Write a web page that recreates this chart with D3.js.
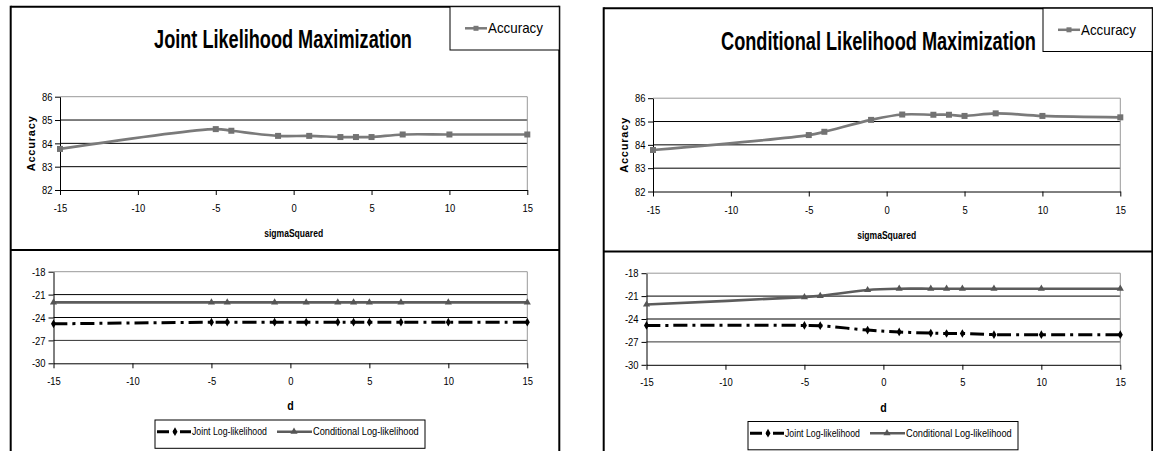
<!DOCTYPE html>
<html><head><meta charset="utf-8">
<script src="https://cdn.jsdelivr.net/npm/d3@7"></script>
<style>body{margin:0;background:#fff;} svg{display:block;}</style>
</head><body>
<svg id="c" width="1153" height="451"></svg>
<script>
// ---- data ----
const xValues = [-15, -5, -4, -1, 1, 3, 4, 5, 7, 10, 15];
const xTicks = [-15, -10, -5, 0, 5, 10, 15];
const accuracyTicks = [82, 83, 84, 85, 86];
const logLikTicks = [-30, -27, -24, -21, -18];
const panelTitles = ["Joint Likelihood Maximization", "Conditional Likelihood Maximization"];
const topXTitle = "sigmaSquared";
const topYTitle = "Accuracy";
const bottomXTitle = "d";
const seriesNames = ["Accuracy", "Joint Log-likelihood", "Conditional Log-likelihood"];

const accuracyJointModel = [83.76, 84.61, 84.54, 84.32, 84.32, 84.27, 84.27, 84.27, 84.38, 84.38, 84.38];
const accuracyCondModel  = [83.78, 84.42, 84.56, 85.07, 85.30, 85.29, 85.29, 85.24, 85.35, 85.24, 85.18];
const jointLLJointModel  = [-24.83, -24.62, -24.62, -24.62, -24.62, -24.62, -24.62, -24.62, -24.62, -24.62, -24.62];
const condLLJointModel   = [-22.02, -22.02, -22.02, -22.02, -22.02, -22.02, -22.02, -22.02, -22.02, -22.02, -22.02];
const jointLLCondModel   = [-24.84, -24.84, -24.88, -25.45, -25.70, -25.85, -25.90, -25.90, -26.05, -26.05, -26.05];
const condLLCondModel    = [-22.10, -21.13, -20.97, -20.20, -20.03, -20.03, -20.03, -20.03, -20.03, -20.03, -20.03];

// ---- drawing ----
const FONT = "'Liberation Sans',Arial,sans-serif";
const TICK_SX = 0.82;
const svg = d3.select("#c");

const panels = [
  {ox: 0, oy: 0, title: panelTitles[0], titleX: 283, titleW: 258, acc: accuracyJointModel, jll: jointLLJointModel, cll: condLLJointModel},
  {ox: 593, oy: 1.5, title: panelTitles[1], titleX: 285.5, titleW: 315, acc: accuracyCondModel, jll: jointLLCondModel, cll: condLLCondModel}
];

// text horizontally condensed to a target width (narrow-font look)
function condText(sel, x, y, str, size, weight, targetW, anchor) {
  const t = sel.append("text").attr("font-family", FONT).attr("font-size", size)
    .attr("font-weight", weight).attr("fill", "#000").text(str);
  const w = t.node().getComputedTextLength();
  const sx = targetW / w;
  t.attr("text-anchor", anchor || "start").attr("transform", `translate(${x},${y}) scale(${sx},1)`);
  return t;
}

function styleAxis(ax, left, offset) {
  ax.selectAll("path.domain").attr("stroke", "#000").attr("stroke-width", 1);
  ax.selectAll(".tick line").attr("stroke", "#000").attr("stroke-width", 1);
  const tx = ax.selectAll(".tick text").attr("font-family", FONT).attr("font-size", 11.5).attr("fill", "#000")
    .attr("transform", `scale(${TICK_SX},1)`);
  if (left) tx.attr("x", -offset / TICK_SX);
}

panels.forEach(p => {
  const g = svg.append("g").attr("transform", `translate(${p.ox},${p.oy})`);

  // panel borders
  const L = 10.7, R = 559.3, T = 6.7, SEP = 250;
  g.append("line").attr("x1", L).attr("x2", R).attr("y1", T).attr("y2", T).attr("stroke", "#000").attr("stroke-width", 2);
  g.append("line").attr("x1", L).attr("x2", L).attr("y1", T - 1).attr("y2", 460).attr("stroke", "#000").attr("stroke-width", 2);
  g.append("line").attr("x1", R).attr("x2", R).attr("y1", T - 1).attr("y2", 460).attr("stroke", "#000").attr("stroke-width", 2);
  g.append("line").attr("x1", L).attr("x2", R).attr("y1", SEP).attr("y2", SEP).attr("stroke", "#000").attr("stroke-width", 2);

  // title
  condText(g, p.titleX, 48, p.title, 26, "bold", p.titleW, "middle");

  // accuracy legend
  const lg = g.append("g");
  lg.append("rect").attr("x", 450).attr("y", T).attr("width", R - 450).attr("height", 50 - T)
    .attr("fill", "#fff").attr("stroke", "#000").attr("stroke-width", 1);
  lg.append("line").attr("x1", 465).attr("x2", 487).attr("y1", 28.3).attr("y2", 28.3).attr("stroke", "#7a7a7a").attr("stroke-width", 2.5);
  lg.append("rect").attr("x", 473.5).attr("y", 25.8).attr("width", 5).attr("height", 5).attr("fill", "#777");
  condText(lg, 488, 33, seriesNames[0], 14, "normal", 55, "start");

  // ---- top chart ----
  const xT = d3.scaleLinear().domain([-15, 15]).range([60, 527.3]);
  const yT = d3.scaleLinear().domain([82, 86]).range([190, 96.7]);
  accuracyTicks.forEach(t => {
    if (t === 82) return;
    g.append("line").attr("x1", xT(-15)).attr("x2", xT(15)).attr("y1", yT(t)).attr("y2", yT(t))
      .attr("stroke", t === 86 ? "#999" : "#000").attr("stroke-width", 1);
  });
  g.append("line").attr("x1", xT(15)).attr("x2", xT(15)).attr("y1", yT(86)).attr("y2", yT(82)).attr("stroke", "#999");
  const axL = g.append("g").attr("transform", `translate(${xT(-15)},0)`)
    .call(d3.axisLeft(yT).tickValues(accuracyTicks).tickSize(5).tickSizeOuter(0).tickPadding(2.5).tickFormat(d => String(d)));
  styleAxis(axL, true, 7.5);
  const axB = g.append("g").attr("transform", `translate(0,${yT(82)})`)
    .call(d3.axisBottom(xT).tickValues(xTicks).tickSize(5).tickSizeOuter(0).tickPadding(9).tickFormat(d => String(d)));
  styleAxis(axB, false);

  condText(g, (xT(-15) + xT(15)) / 2, yT(82) + 47, topXTitle, 11, "bold", 59, "middle");
  const yl = g.append("g").attr("transform", `translate(31,${(yT(82) + yT(86)) / 2}) rotate(-90)`);
  yl.append("text").attr("text-anchor", "middle").attr("dominant-baseline", "central")
    .attr("font-family", FONT).attr("font-weight", "bold").attr("font-size", 11)
    .attr("letter-spacing", 0.8).text(topYTitle);

  const accData = xValues.map((x, i) => [x, p.acc[i]]);
  const lineT = d3.line().x(d => xT(d[0])).y(d => yT(d[1])).curve(d3.curveCatmullRom.alpha(0.5));
  g.append("path").attr("d", lineT(accData)).attr("fill", "none").attr("stroke", "#7a7a7a").attr("stroke-width", 2.7);
  g.selectAll(null).data(accData).enter().append("rect")
    .attr("x", d => xT(d[0]) - 3).attr("y", d => yT(d[1]) - 3).attr("width", 6).attr("height", 6).attr("fill", "#727272");

  // ---- bottom chart ----
  const xB = d3.scaleLinear().domain([-15, 15]).range([53.5, 527.3]);
  const yB = d3.scaleLinear().domain([-30, -18]).range([363.3, 271.7]);
  logLikTicks.forEach(t => {
    if (t === -30) return;
    g.append("line").attr("x1", xB(-15)).attr("x2", xB(15)).attr("y1", yB(t)).attr("y2", yB(t))
      .attr("stroke", t === -18 ? "#999" : (t === -27 ? "#333" : "#000")).attr("stroke-width", 1);
  });
  g.append("line").attr("x1", xB(15)).attr("x2", xB(15)).attr("y1", yB(-18)).attr("y2", yB(-30)).attr("stroke", "#999");
  const axL2 = g.append("g").attr("transform", `translate(${xB(-15)},0)`)
    .call(d3.axisLeft(yB).tickValues(logLikTicks).tickSize(5).tickSizeOuter(0).tickPadding(3).tickFormat(d => String(d)));
  styleAxis(axL2, true, 8);
  const axB2 = g.append("g").attr("transform", `translate(0,${yB(-30)})`)
    .call(d3.axisBottom(xB).tickValues(xTicks).tickSize(5).tickSizeOuter(0).tickPadding(8.5).tickFormat(d => String(d)));
  styleAxis(axB2, false);
  condText(g, (xB(-15) + xB(15)) / 2, yB(-30) + 47, bottomXTitle, 12, "bold", 6.5, "middle");

  const lineB = d3.line().x(d => xB(d[0])).y(d => yB(d[1])).curve(d3.curveCatmullRom.alpha(0.5));
  const cllData = xValues.map((x, i) => [x, p.cll[i]]);
  const jllData = xValues.map((x, i) => [x, p.jll[i]]);
  g.append("path").attr("d", lineB(cllData)).attr("fill", "none").attr("stroke", "#5c5c5c").attr("stroke-width", 2.6);
  g.selectAll(null).data(cllData).enter().append("path")
    .attr("transform", d => `translate(${xB(d[0])},${yB(d[1])})`)
    .attr("d", d3.symbol(d3.symbolTriangle, 22)()).attr("fill", "#555");
  g.append("path").attr("d", lineB(jllData)).attr("fill", "none").attr("stroke", "#000").attr("stroke-width", 3)
    .attr("stroke-dasharray", "14,5,3,5");
  g.selectAll(null).data(jllData).enter().append("path")
    .attr("transform", d => `translate(${xB(d[0])},${yB(d[1])})`)
    .attr("d", d3.symbol(d3.symbolDiamond, 22)()).attr("fill", "#000");

  // bottom legend
  const bl = g.append("g");
  bl.append("rect").attr("x", 155).attr("y", 420).attr("width", 270).attr("height", 28.3)
    .attr("fill", "#fff").attr("stroke", "#000").attr("stroke-width", 1);
  bl.append("line").attr("x1", 157).attr("x2", 191).attr("y1", 431.7).attr("y2", 431.7)
    .attr("stroke", "#000").attr("stroke-width", 3).attr("stroke-dasharray", "12,4,3,4");
  bl.append("path").attr("transform", "translate(175,431.7)").attr("d", d3.symbol(d3.symbolDiamond, 22)()).attr("fill", "#000");
  condText(bl, 192, 435, seriesNames[1], 10.5, "normal", 75, "start");
  bl.append("line").attr("x1", 277).attr("x2", 312).attr("y1", 431.7).attr("y2", 431.7)
    .attr("stroke", "#5c5c5c").attr("stroke-width", 2.6);
  bl.append("path").attr("transform", "translate(294,431.7)").attr("d", d3.symbol(d3.symbolTriangle, 22)()).attr("fill", "#555");
  condText(bl, 313, 435, seriesNames[2], 10.5, "normal", 106, "start");
});
</script>
</body></html>
